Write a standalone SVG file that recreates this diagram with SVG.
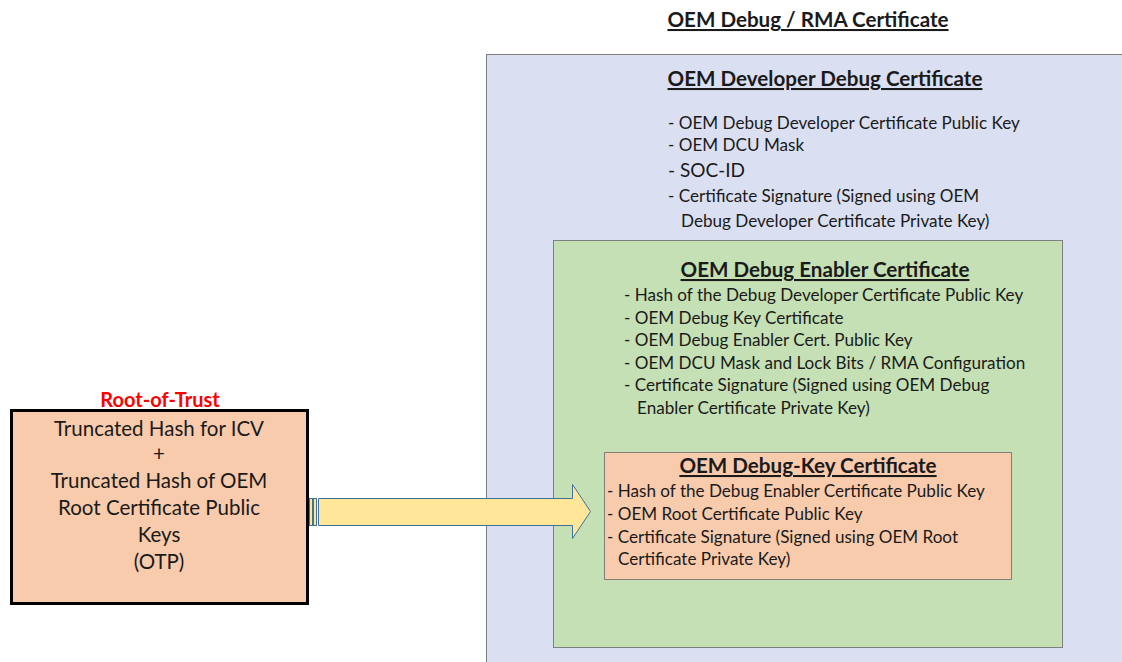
<svg xmlns="http://www.w3.org/2000/svg" width="1122" height="662" viewBox="0 0 1122 662">
<style>
text{font-family:Lato,"Open Sans","Liberation Sans",sans-serif;fill:#1a1a1a}
.h{font-weight:bold;font-size:20.6px;text-decoration:underline;text-anchor:middle}
.b{font-size:17.1px}
.r{font-size:20.5px;text-anchor:middle}
</style>
<rect width="1122" height="662" fill="#ffffff"/>
<text class="h" x="808" y="27">OEM Debug / RMA Certificate</text>
<g id="dev-cert">
<rect x="486.5" y="54.5" width="640" height="620" fill="#dae0f2" stroke="#7f7f7f" stroke-width="1"/>
<text class="h" x="825" y="86">OEM Developer Debug Certificate</text>
<text class="b" x="668" y="129">- OEM Debug Developer Certificate Public Key</text>
<text class="b" x="668" y="151">- OEM DCU Mask</text>
<text x="668" y="177" style="font-size:19px">- SOC-ID</text>
<text class="b" x="668" y="202">- Certificate Signature (Signed using OEM</text>
<text class="b" x="681" y="227">Debug Developer Certificate Private Key)</text>
</g>
<g id="enabler-cert">
<rect x="553.5" y="240.5" width="509" height="407" fill="#c5e0b4" stroke="#7f7f7f" stroke-width="1"/>
<text class="h" x="825" y="277">OEM Debug Enabler Certificate</text>
<text class="b" x="624" y="301">- Hash of the Debug Developer Certificate Public Key</text>
<text class="b" x="624" y="324">- OEM Debug Key Certificate</text>
<text class="b" x="624" y="346">- OEM Debug Enabler Cert. Public Key</text>
<text class="b" x="624" y="369">- OEM DCU Mask and Lock Bits / RMA Configuration</text>
<text class="b" x="624" y="391">- Certificate Signature (Signed using OEM Debug</text>
<text class="b" x="637" y="414">Enabler Certificate Private Key)</text>
</g>
<g id="debugkey-cert">
<rect x="604.5" y="452.5" width="407" height="127" fill="#f8cbad" stroke="#7f7f7f" stroke-width="1"/>
<text class="h" x="808" y="473">OEM Debug-Key Certificate</text>
<text class="b" x="607" y="497">- Hash of the Debug Enabler Certificate Public Key</text>
<text class="b" x="607" y="520">- OEM Root Certificate Public Key</text>
<text class="b" x="607" y="543">- Certificate Signature (Signed using OEM Root</text>
<text class="b" x="618" y="565">Certificate Private Key)</text>
</g>
<g id="root-of-trust">
<text x="160" y="407" style="font-size:20px;font-weight:bold;fill:#ff0000;text-anchor:middle">Root-of-Trust</text>
<rect x="11.5" y="410.5" width="296" height="193" fill="#f8cbad" stroke="#000000" stroke-width="3"/>
<text class="r" x="159" y="436">Truncated Hash for ICV</text>
<text class="r" x="159" y="461">+</text>
<text class="r" x="159" y="488">Truncated Hash of OEM</text>
<text class="r" x="159" y="515">Root Certificate Public</text>
<text class="r" x="159" y="542">Keys</text>
<text class="r" x="159" y="569">(OTP)</text>
</g>
<g id="connectors">
<rect x="309.5" y="498.5" width="3" height="27" fill="#ffe699" stroke="#41719c" stroke-width="1"/>
<rect x="313.5" y="498.5" width="3" height="27" fill="#ffe699" stroke="#41719c" stroke-width="1"/>
<path d="M318.5,498.5 H572.5 V484.5 L590.5,511.5 L572.5,538.5 V525.5 H318.5 Z" fill="#ffe699" stroke="#41719c" stroke-width="1"/>
</g>
</svg>
